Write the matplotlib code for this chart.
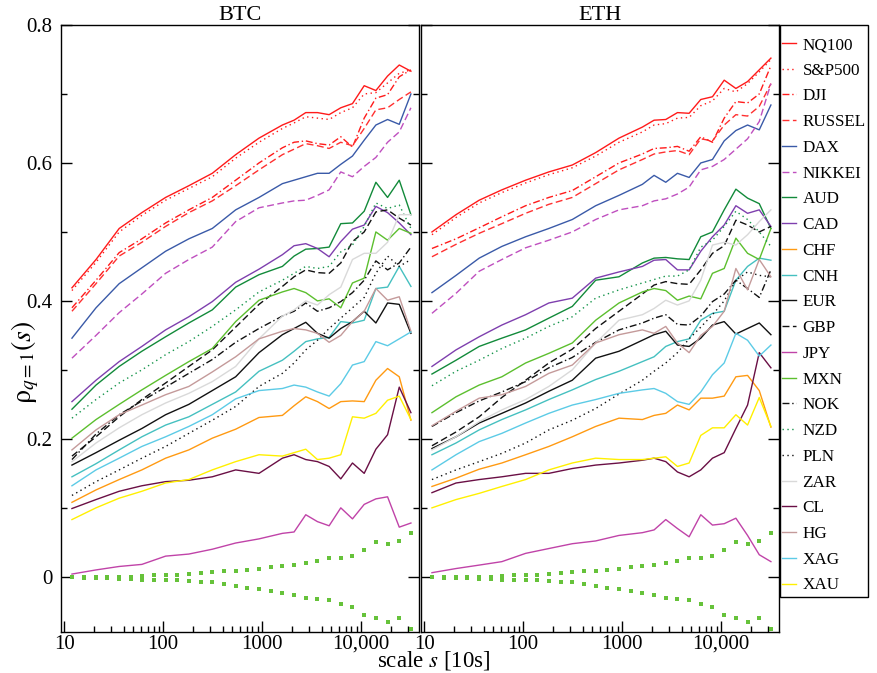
import numpy as np
import matplotlib
matplotlib.use("Agg")
import matplotlib.pyplot as plt
from matplotlib.patches import Rectangle
from matplotlib.ticker import FixedLocator, LogLocator, NullFormatter, MultipleLocator

plt.rcParams['font.family'] = ['Liberation Serif', 'DejaVu Serif']
plt.rcParams['mathtext.fontset'] = 'stix'

# scales s (in units of 10 s) at which rho was evaluated
scales = [12, 21, 36, 61, 106, 182, 314, 541, 931, 1604, 2105, 2763, 3627, 4757,
          6240, 8190, 10760, 14120, 18530, 24320, 31900]

# null-hypothesis band (shuffled data), evaluated on the full scale grid
band_scales = [12, 16, 21, 27, 36, 47, 61, 81, 106, 139, 182, 239, 314, 412, 541,
               710, 931, 1222, 1604, 2105, 2763, 3627, 4757, 6240, 8190, 10760,
               14120, 18530, 24320, 31900]
band_hi = [0, 0, 0, 0, 0, 0, 0.001, 0.002, 0.002, 0.003, 0.004, 0.006, 0.007, 0.008,
           0.009, 0.010, 0.012, 0.014, 0.016, 0.017, 0.020, 0.023, 0.027, 0.028,
           0.030, 0.039, 0.051, 0.048, 0.052, 0.064]
band_lo = [0, -0.001, -0.002, -0.002, -0.003, -0.003, -0.004, -0.004, -0.004, -0.005,
           -0.006, -0.007, -0.008, -0.011, -0.013, -0.016, -0.018, -0.021, -0.024,
           -0.026, -0.030, -0.032, -0.034, -0.040, -0.044, -0.055, -0.060, -0.065,
           -0.060, -0.075]

# ---- BTC ----
btc_nq100 = [0.419, 0.46, 0.505, 0.528, 0.55, 0.567, 0.585, 0.612, 0.636, 0.655, 0.662, 0.673, 0.673, 0.67, 0.68, 0.686, 0.712, 0.705, 0.726, 0.742, 0.733]
btc_sp500 = [0.415, 0.456, 0.5, 0.524, 0.546, 0.563, 0.58, 0.607, 0.63, 0.65, 0.658, 0.667, 0.665, 0.663, 0.673, 0.68, 0.7, 0.702, 0.716, 0.73, 0.735]
btc_dji = [0.39, 0.43, 0.47, 0.49, 0.513, 0.532, 0.55, 0.575, 0.6, 0.622, 0.63, 0.632, 0.628, 0.626, 0.638, 0.623, 0.665, 0.694, 0.699, 0.725, 0.735]
btc_russel = [0.385, 0.425, 0.465, 0.485, 0.508, 0.528, 0.545, 0.567, 0.59, 0.612, 0.62, 0.628, 0.625, 0.621, 0.63, 0.625, 0.65, 0.677, 0.68, 0.692, 0.703]
btc_dax = [0.346, 0.39, 0.425, 0.448, 0.472, 0.49, 0.505, 0.532, 0.55, 0.57, 0.575, 0.58, 0.585, 0.585, 0.598, 0.61, 0.633, 0.655, 0.663, 0.656, 0.70]
btc_nikkei = [0.317, 0.35, 0.383, 0.41, 0.44, 0.46, 0.478, 0.515, 0.535, 0.542, 0.545, 0.546, 0.553, 0.561, 0.587, 0.58, 0.595, 0.608, 0.63, 0.645, 0.68]
btc_aud = [0.243, 0.278, 0.305, 0.327, 0.348, 0.368, 0.387, 0.42, 0.438, 0.45, 0.465, 0.475, 0.476, 0.478, 0.512, 0.513, 0.53, 0.572, 0.55, 0.575, 0.525]
btc_cad = [0.254, 0.285, 0.312, 0.334, 0.358, 0.377, 0.399, 0.427, 0.446, 0.467, 0.48, 0.483, 0.476, 0.464, 0.486, 0.504, 0.51, 0.537, 0.528, 0.513, 0.496]
btc_chf = [0.108, 0.126, 0.141, 0.155, 0.172, 0.184, 0.201, 0.214, 0.231, 0.234, 0.248, 0.261, 0.254, 0.244, 0.254, 0.255, 0.254, 0.285, 0.302, 0.29, 0.227]
btc_cnh = [0.145, 0.164, 0.184, 0.203, 0.22, 0.232, 0.25, 0.268, 0.298, 0.314, 0.327, 0.341, 0.345, 0.347, 0.37, 0.368, 0.372, 0.418, 0.42, 0.45, 0.421]
btc_eur = [0.162, 0.18, 0.198, 0.215, 0.235, 0.25, 0.27, 0.29, 0.325, 0.351, 0.36, 0.369, 0.353, 0.346, 0.36, 0.37, 0.385, 0.368, 0.397, 0.395, 0.353]
btc_gbp = [0.175, 0.203, 0.232, 0.257, 0.281, 0.305, 0.329, 0.362, 0.395, 0.421, 0.435, 0.445, 0.441, 0.44, 0.455, 0.486, 0.5, 0.529, 0.532, 0.52, 0.51]
btc_jpy = [0.004, 0.01, 0.015, 0.018, 0.03, 0.033, 0.04, 0.049, 0.055, 0.063, 0.065, 0.09, 0.08, 0.074, 0.1, 0.084, 0.105, 0.113, 0.116, 0.072, 0.078]
btc_mxn = [0.201, 0.228, 0.25, 0.271, 0.292, 0.312, 0.331, 0.37, 0.401, 0.413, 0.418, 0.412, 0.4, 0.403, 0.39, 0.426, 0.433, 0.5, 0.488, 0.505, 0.498]
btc_nok = [0.17, 0.207, 0.235, 0.255, 0.275, 0.295, 0.315, 0.34, 0.36, 0.378, 0.385, 0.397, 0.385, 0.39, 0.399, 0.412, 0.43, 0.458, 0.445, 0.455, 0.478]
btc_nzd = [0.23, 0.257, 0.281, 0.3, 0.322, 0.341, 0.363, 0.387, 0.413, 0.43, 0.44, 0.45, 0.447, 0.45, 0.471, 0.481, 0.508, 0.542, 0.534, 0.539, 0.505]
btc_pln = [0.118, 0.138, 0.155, 0.172, 0.189, 0.208, 0.227, 0.247, 0.276, 0.295, 0.31, 0.329, 0.343, 0.36, 0.375, 0.39, 0.405, 0.44, 0.465, 0.45, 0.46]
btc_zar = [0.167, 0.194, 0.216, 0.235, 0.252, 0.266, 0.283, 0.305, 0.345, 0.378, 0.387, 0.4, 0.394, 0.409, 0.42, 0.46, 0.469, 0.469, 0.485, 0.525, 0.525]
btc_cl = [0.099, 0.112, 0.124, 0.132, 0.138, 0.14, 0.145, 0.155, 0.15, 0.172, 0.177, 0.17, 0.167, 0.16, 0.142, 0.165, 0.15, 0.185, 0.206, 0.275, 0.238]
btc_hg = [0.184, 0.213, 0.235, 0.249, 0.264, 0.276, 0.297, 0.319, 0.345, 0.356, 0.36, 0.358, 0.353, 0.34, 0.35, 0.37, 0.385, 0.418, 0.401, 0.406, 0.356]
btc_xag = [0.132, 0.155, 0.172, 0.189, 0.203, 0.218, 0.235, 0.258, 0.27, 0.273, 0.278, 0.275, 0.268, 0.262, 0.28, 0.307, 0.312, 0.341, 0.335, 0.345, 0.355]
btc_xau = [0.083, 0.1, 0.114, 0.124, 0.136, 0.141, 0.155, 0.167, 0.177, 0.175, 0.18, 0.185, 0.17, 0.172, 0.177, 0.232, 0.23, 0.237, 0.256, 0.262, 0.228]

# ---- ETH ----
eth_nq100 = [0.5, 0.525, 0.546, 0.561, 0.575, 0.587, 0.597, 0.615, 0.636, 0.652, 0.662, 0.663, 0.673, 0.672, 0.692, 0.696, 0.72, 0.708, 0.718, 0.735, 0.752]
eth_sp500 = [0.496, 0.521, 0.542, 0.557, 0.571, 0.583, 0.593, 0.61, 0.63, 0.645, 0.655, 0.657, 0.665, 0.666, 0.683, 0.69, 0.708, 0.703, 0.715, 0.732, 0.75]
eth_dji = [0.476, 0.49, 0.506, 0.522, 0.538, 0.55, 0.56, 0.58, 0.6, 0.613, 0.621, 0.622, 0.624, 0.617, 0.638, 0.63, 0.665, 0.689, 0.687, 0.7, 0.741]
eth_russel = [0.464, 0.482, 0.498, 0.512, 0.527, 0.54, 0.55, 0.57, 0.59, 0.605, 0.613, 0.616, 0.618, 0.612, 0.635, 0.632, 0.655, 0.67, 0.668, 0.682, 0.715]
eth_dax = [0.412, 0.437, 0.462, 0.479, 0.493, 0.505, 0.518, 0.538, 0.553, 0.569, 0.582, 0.572, 0.585, 0.579, 0.6, 0.605, 0.632, 0.647, 0.655, 0.648, 0.684]
eth_nikkei = [0.382, 0.411, 0.443, 0.46, 0.477, 0.488, 0.5, 0.518, 0.532, 0.538, 0.545, 0.548, 0.555, 0.565, 0.59, 0.595, 0.605, 0.62, 0.635, 0.66, 0.715]
eth_aud = [0.294, 0.314, 0.334, 0.346, 0.358, 0.375, 0.392, 0.43, 0.435, 0.455, 0.462, 0.463, 0.461, 0.46, 0.493, 0.5, 0.532, 0.562, 0.549, 0.541, 0.505]
eth_cad = [0.305, 0.329, 0.348, 0.365, 0.38, 0.397, 0.404, 0.433, 0.442, 0.45, 0.459, 0.46, 0.445, 0.445, 0.472, 0.493, 0.51, 0.538, 0.527, 0.532, 0.508]
eth_chf = [0.131, 0.143, 0.156, 0.165, 0.177, 0.189, 0.203, 0.218, 0.23, 0.228, 0.234, 0.237, 0.249, 0.242, 0.259, 0.259, 0.262, 0.29, 0.292, 0.27, 0.217]
eth_cnh = [0.177, 0.194, 0.213, 0.228, 0.242, 0.257, 0.271, 0.286, 0.298, 0.312, 0.319, 0.334, 0.341, 0.345, 0.372, 0.382, 0.385, 0.43, 0.45, 0.462, 0.459]
eth_eur = [0.186, 0.203, 0.223, 0.237, 0.252, 0.269, 0.285, 0.317, 0.327, 0.343, 0.351, 0.356, 0.336, 0.334, 0.346, 0.365, 0.37, 0.352, 0.36, 0.368, 0.351]
eth_gbp = [0.19, 0.21, 0.232, 0.26, 0.285, 0.31, 0.33, 0.36, 0.385, 0.41, 0.423, 0.428, 0.425, 0.424, 0.445, 0.469, 0.48, 0.517, 0.51, 0.5, 0.508]
eth_jpy = [0.006, 0.012, 0.017, 0.022, 0.034, 0.041, 0.048, 0.052, 0.06, 0.064, 0.068, 0.083, 0.07, 0.058, 0.09, 0.075, 0.077, 0.085, 0.06, 0.032, 0.022]
eth_mxn = [0.238, 0.261, 0.278, 0.29, 0.31, 0.324, 0.339, 0.372, 0.397, 0.413, 0.418, 0.415, 0.401, 0.407, 0.403, 0.44, 0.447, 0.491, 0.469, 0.46, 0.505]
eth_nok = [0.218, 0.238, 0.255, 0.268, 0.283, 0.303, 0.318, 0.34, 0.358, 0.368, 0.375, 0.38, 0.366, 0.365, 0.378, 0.399, 0.41, 0.43, 0.418, 0.405, 0.445]
eth_nzd = [0.277, 0.298, 0.314, 0.331, 0.346, 0.363, 0.377, 0.404, 0.416, 0.426, 0.431, 0.436, 0.436, 0.445, 0.478, 0.488, 0.508, 0.53, 0.518, 0.5, 0.479]
eth_pln = [0.141, 0.155, 0.167, 0.179, 0.194, 0.213, 0.227, 0.244, 0.265, 0.285, 0.298, 0.31, 0.325, 0.345, 0.362, 0.38, 0.4, 0.43, 0.442, 0.437, 0.435]
eth_zar = [0.184, 0.203, 0.225, 0.242, 0.257, 0.276, 0.3, 0.339, 0.372, 0.38, 0.389, 0.401, 0.394, 0.4, 0.43, 0.481, 0.485, 0.481, 0.496, 0.515, 0.532]
eth_cl = [0.122, 0.136, 0.141, 0.145, 0.15, 0.15, 0.157, 0.162, 0.165, 0.169, 0.172, 0.167, 0.152, 0.145, 0.155, 0.172, 0.18, 0.215, 0.249, 0.325, 0.303]
eth_hg = [0.219, 0.24, 0.259, 0.264, 0.276, 0.295, 0.307, 0.339, 0.351, 0.358, 0.353, 0.363, 0.339, 0.325, 0.35, 0.363, 0.385, 0.447, 0.416, 0.46, 0.435]
eth_xag = [0.155, 0.177, 0.196, 0.208, 0.223, 0.237, 0.249, 0.257, 0.266, 0.271, 0.273, 0.266, 0.254, 0.25, 0.268, 0.293, 0.31, 0.353, 0.343, 0.32, 0.336]
eth_xau = [0.1, 0.112, 0.121, 0.131, 0.141, 0.155, 0.165, 0.172, 0.17, 0.17, 0.172, 0.174, 0.16, 0.165, 0.205, 0.216, 0.216, 0.235, 0.22, 0.26, 0.218]

names = ['NQ100', 'S&P500', 'DJI', 'RUSSEL', 'DAX', 'NIKKEI', 'AUD', 'CAD', 'CHF',
         'CNH', 'EUR', 'GBP', 'JPY', 'MXN', 'NOK', 'NZD', 'PLN', 'ZAR', 'CL', 'HG',
         'XAG', 'XAU']

btc = dict(zip(names, [btc_nq100, btc_sp500, btc_dji, btc_russel, btc_dax, btc_nikkei,
                       btc_aud, btc_cad, btc_chf, btc_cnh, btc_eur, btc_gbp, btc_jpy,
                       btc_mxn, btc_nok, btc_nzd, btc_pln, btc_zar, btc_cl, btc_hg,
                       btc_xag, btc_xau]))
eth = dict(zip(names, [eth_nq100, eth_sp500, eth_dji, eth_russel, eth_dax, eth_nikkei,
                       eth_aud, eth_cad, eth_chf, eth_cnh, eth_eur, eth_gbp, eth_jpy,
                       eth_mxn, eth_nok, eth_nzd, eth_pln, eth_zar, eth_cl, eth_hg,
                       eth_xag, eth_xau]))

dotted = (0, (1, 2.5))
dashed = (0, (5, 2.5))
dashdot = (0, (5, 2, 1, 2))
styles = {
    'NQ100': ('#ff1a1a', '-'), 'S&P500': ('#ff1a1a', dotted), 'DJI': ('#ff1a1a', dashdot),
    'RUSSEL': ('#ff3030', dashed), 'DAX': ('#3a5aa8', '-'), 'NIKKEI': ('#bf4fbf', dashed),
    'AUD': ('#128a3a', '-'), 'CAD': ('#7e3fae', '-'), 'CHF': ('#ff9a12', '-'),
    'CNH': ('#45c0c0', '-'), 'EUR': ('#111111', '-'), 'GBP': ('#111111', dashed),
    'JPY': ('#c043a8', '-'), 'MXN': ('#5cbf2e', '-'), 'NOK': ('#111111', dashdot),
    'NZD': ('#14944a', dotted), 'PLN': ('#111111', dotted), 'ZAR': ('#d9d9d9', '-'),
    'CL': ('#6a0f45', '-'), 'HG': ('#c49a9a', '-'), 'XAG': ('#5ccbe6', '-'),
    'XAU': ('#fff000', '-'),
}

fig = plt.figure(figsize=(8.78, 6.73), dpi=100)
ax1 = fig.add_axes([61 / 878, 41 / 673, 358 / 878, 607 / 673])
ax2 = fig.add_axes([421 / 878, 41 / 673, 358 / 878, 607 / 673], sharey=ax1)

for ax, data, title in [(ax1, btc, 'BTC'), (ax2, eth, 'ETH')]:
    for name in names:
        color, ls = styles[name]
        ax.plot(scales, data[name], color=color, linestyle=ls, lw=1.0, label=name)
    for band in (band_hi, band_lo):
        ax.plot(band_scales, band, ls='none', marker='s', ms=2.2, mew=0,
                color='#66c23a')
    ax.set_xscale('log')
    ax.set_xlim(9.3, 38500)
    ax.set_ylim(-0.08, 0.8)
    ax.set_title(title, fontsize=16, pad=1)
    ax.xaxis.set_major_locator(FixedLocator([10, 100, 1000, 10000]))
    ax.set_xticklabels(['10', '100', '1000', '10,000'])
    ax.xaxis.set_minor_locator(LogLocator(base=10, subs=np.arange(2, 10)))
    ax.xaxis.set_minor_formatter(NullFormatter())
    ax.yaxis.set_major_locator(MultipleLocator(0.2))
    ax.yaxis.set_minor_locator(MultipleLocator(0.1))
    ax.tick_params(which='both', direction='in', top=False, right=True,
                   labelsize=15, width=1.0)
    ax.tick_params(axis='x', which='major', length=8, pad=2)
    ax.tick_params(axis='x', which='minor', length=4)
    ax.tick_params(axis='y', which='major', length=8, pad=6)
    ax.tick_params(axis='y', which='minor', length=4)
    for sp in ax.spines.values():
        sp.set_linewidth(1.0)

ax1.set_yticks([0, 0.2, 0.4, 0.6, 0.8])
ax1.set_yticklabels(['0', '0.2', '0.4', '0.6', '0.8'])
ax2.tick_params(labelleft=False)

fig.text(25 / 878, 1 - 362 / 673, r'$\mathrm{\rho}_{q=1}(s)$', rotation=90,
         ha='center', va='center', fontsize=20)
fig.text(434 / 878, 1 - 660 / 673, r'scale $s$ [10s]', ha='center', va='center',
         fontsize=16.5)

# legend box to the right of the ETH panel
fig.add_artist(Rectangle((780 / 878, 1 - 597 / 673), 88 / 878, 572 / 673,
                         transform=fig.transFigure, fill=False, ec='black', lw=1.0))
handles, labels = ax1.get_legend_handles_labels()
fig.legend(handles, labels, loc='upper left', bbox_to_anchor=(782 / 878, 1 - 37 / 673),
           frameon=False, fontsize=12.3, handlelength=0.8, handletextpad=0.4,
           labelspacing=0.57, borderpad=0, borderaxespad=0)

fig.savefig('out.png', dpi=100)
